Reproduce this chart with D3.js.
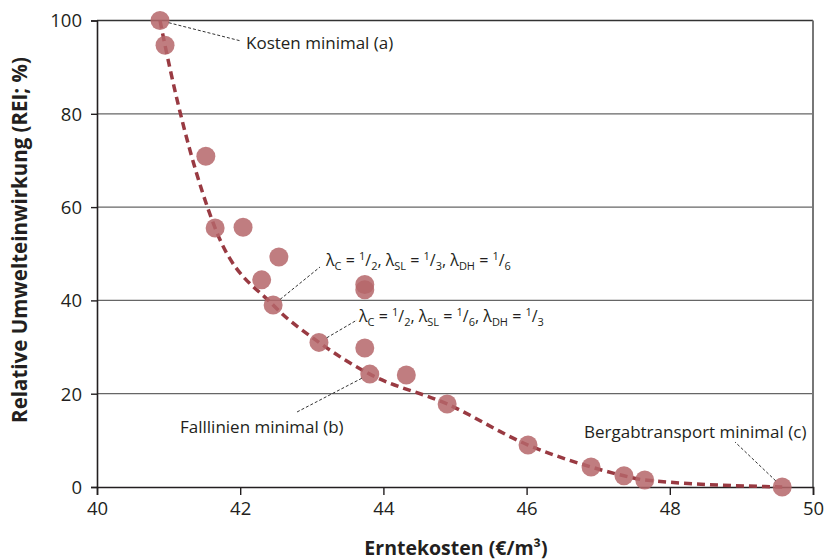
<!DOCTYPE html>
<html>
<head>
<meta charset="utf-8">
<script src="https://cdn.jsdelivr.net/npm/d3@7"></script>
<style>
  body { margin: 0; background: #fff; }
  svg text { font-family: "Open Sans", "Noto Sans", sans-serif; fill: #231f20; }
</style>
</head>
<body>
<div id="chart"></div>
<script>
// harvest cost (€/m³) and relative environmental impact (%) of each solution
const costs = [40.88, 40.95, 41.52, 41.65, 42.04, 42.54, 42.30, 42.46, 43.74, 43.74,
               43.10, 43.74, 43.81, 44.32, 44.89, 46.02, 46.90, 47.36, 47.65, 49.57];
const rei   = [100, 94.7, 70.9, 55.5, 55.7, 49.3, 44.4, 39.0, 43.4, 42.3,
               31.0, 29.8, 24.2, 24.0, 17.8, 9.0, 4.3, 2.4, 1.5, 0];

// points lying on the pareto front (dashed line)
const frontCost = [40.88, 40.95, 41.65, 42.46, 43.10, 43.81, 44.89, 46.02, 46.90, 47.36, 47.65, 49.57];
const frontRei  = [100, 94.7, 55.5, 39.0, 31.0, 24.2, 17.8, 9.0, 4.3, 2.4, 1.5, 0];

const xTicks = [40, 42, 44, 46, 48, 50];
const yTicks = [0, 20, 40, 60, 80, 100];

const width = 824, height = 560;
const margin = {left: 97, right: 11, top: 20.5, bottom: 73};

const svg = d3.select("#chart").append("svg")
    .attr("width", width)
    .attr("height", height);

const x = d3.scaleLinear().domain([40, 50]).range([margin.left, width - margin.right]);
const y = d3.scaleLinear().domain([0, 100]).range([height - margin.bottom, margin.top]);

// horizontal grid lines
svg.append("g")
    .selectAll("line")
    .data(yTicks.filter(d => d > 0))
    .enter()
    .append("line")
    .attr("x1", x(40)).attr("x2", x(50))
    .attr("y1", d => y(d)).attr("y2", d => y(d))
    .attr("stroke", d => d == 100 ? "#333" : "#666")
    .attr("stroke-width", d => d == 100 ? 1.6 : 1.2);

// right border
svg.append("line")
    .attr("x1", x(50)).attr("x2", x(50))
    .attr("y1", y(100)).attr("y2", y(0))
    .attr("stroke", "#777")
    .attr("stroke-width", 2);

// axes
const xAxis = svg.append("g")
    .attr("transform", `translate(0,${y(0)})`)
    .call(d3.axisBottom(x).tickValues(xTicks).tickSize(8).tickPadding(4));
const yAxis = svg.append("g")
    .attr("transform", `translate(${x(40)},0)`)
    .call(d3.axisLeft(y).tickValues(yTicks).tickSize(6).tickPadding(9));

[xAxis, yAxis].forEach(a => {
    a.select(".domain").attr("stroke", "#231f20").attr("stroke-width", 1.6);
    a.selectAll(".tick line").attr("stroke", "#231f20").attr("stroke-width", 1.4);
    a.selectAll(".tick text")
        .style("font-family", "'Open Sans', sans-serif")
        .style("font-size", "18.5px")
        .attr("fill", "#231f20");
});
xAxis.selectAll(".tick text").attr("dy", "0.85em");
yAxis.selectAll(".tick text").attr("dy", "0.35em");

// axis titles
svg.append("text")
    .attr("x", 456)
    .attr("y", 555)
    .attr("text-anchor", "middle")
    .style("font-size", "19.5px")
    .style("font-weight", "bold")
    .text("Erntekosten (€/m³)");

svg.append("text")
    .attr("transform", `translate(27,${240}) rotate(-90)`)
    .attr("text-anchor", "middle")
    .style("font-size", "20.5px")
    .style("font-weight", "bold")
    .text("Relative Umwelteinwirkung (REI; %)");

// pareto front
const frontier = frontCost.map((c, i) => [c, frontRei[i]]);
svg.append("path")
    .datum(frontier)
    .attr("d", d3.line().x(d => x(d[0])).y(d => y(d[1])).curve(d3.curveMonotoneX))
    .attr("fill", "none")
    .attr("stroke", "#993a42")
    .attr("stroke-width", 3.5)
    .attr("stroke-dasharray", "8,5");

// solution points
svg.append("g")
    .selectAll("circle")
    .data(costs.map((c, i) => [c, rei[i]]))
    .enter()
    .append("circle")
    .attr("cx", d => x(d[0]))
    .attr("cy", d => y(d[1]))
    .attr("r", 9.5)
    .attr("fill", "#b5666a")
    .attr("fill-opacity", 0.85);

// annotations: point index, label start, leader end, text pieces
const frac = (a, b) => [{t: a, s: "sup"}, {t: "/"}, {t: b, s: "sub"}];
const lambdaText = (sl, dh) => [
    {t: "λ"}, {t: "C", s: "sub"}, {t: " = "}, ...frac("1", "2"), {t: ", "},
    {t: "λ"}, {t: "SL", s: "sub"}, {t: " = "}, ...frac("1", sl), {t: ", "},
    {t: "λ"}, {t: "DH", s: "sub"}, {t: " = "}, ...frac("1", dh)
];
const annotations = [
    {i: 0,  tx: 246, ty: 49,  lx: 241, ly: 41,  fs: 17, parts: [{t: "Kosten minimal (a)"}]},
    {i: 7,  tx: 326, ty: 266, lx: 320, ly: 267, fs: 16, parts: lambdaText("3", "6")},
    {i: 10, tx: 359, ty: 322, lx: 357, ly: 320, fs: 16, parts: lambdaText("6", "3")},
    {i: 12, tx: 180, ty: 433, lx: 297, ly: 412, fs: 17, parts: [{t: "Falllinien minimal (b)"}]},
    {i: 19, tx: 584, ty: 438, lx: 735, ly: 442, fs: 17, parts: [{t: "Bergabtransport minimal (c)"}]}
];

annotations.forEach(a => {
    const px = x(costs[a.i]), py = y(rei[a.i]);
    const dx = a.lx - px, dy = a.ly - py, len = Math.hypot(dx, dy);
    svg.append("line")
        .attr("x1", px + dx / len * 9).attr("y1", py + dy / len * 9)
        .attr("x2", a.lx).attr("y2", a.ly)
        .attr("stroke", "#333")
        .attr("stroke-width", 1)
        .attr("stroke-dasharray", "3,2");

    const t = svg.append("text")
        .attr("x", a.tx).attr("y", a.ty)
        .style("font-size", a.fs + "px");
    let shift = 0;
    a.parts.forEach(p => {
        const target = p.s == "sub" ? 4 : p.s == "sup" ? -6 : 0;
        t.append("tspan")
            .attr("dy", target - shift)
            .style("font-size", p.s ? "11px" : a.fs + "px")
            .text(p.t);
        shift = target;
    });
});
</script>
</body>
</html>
